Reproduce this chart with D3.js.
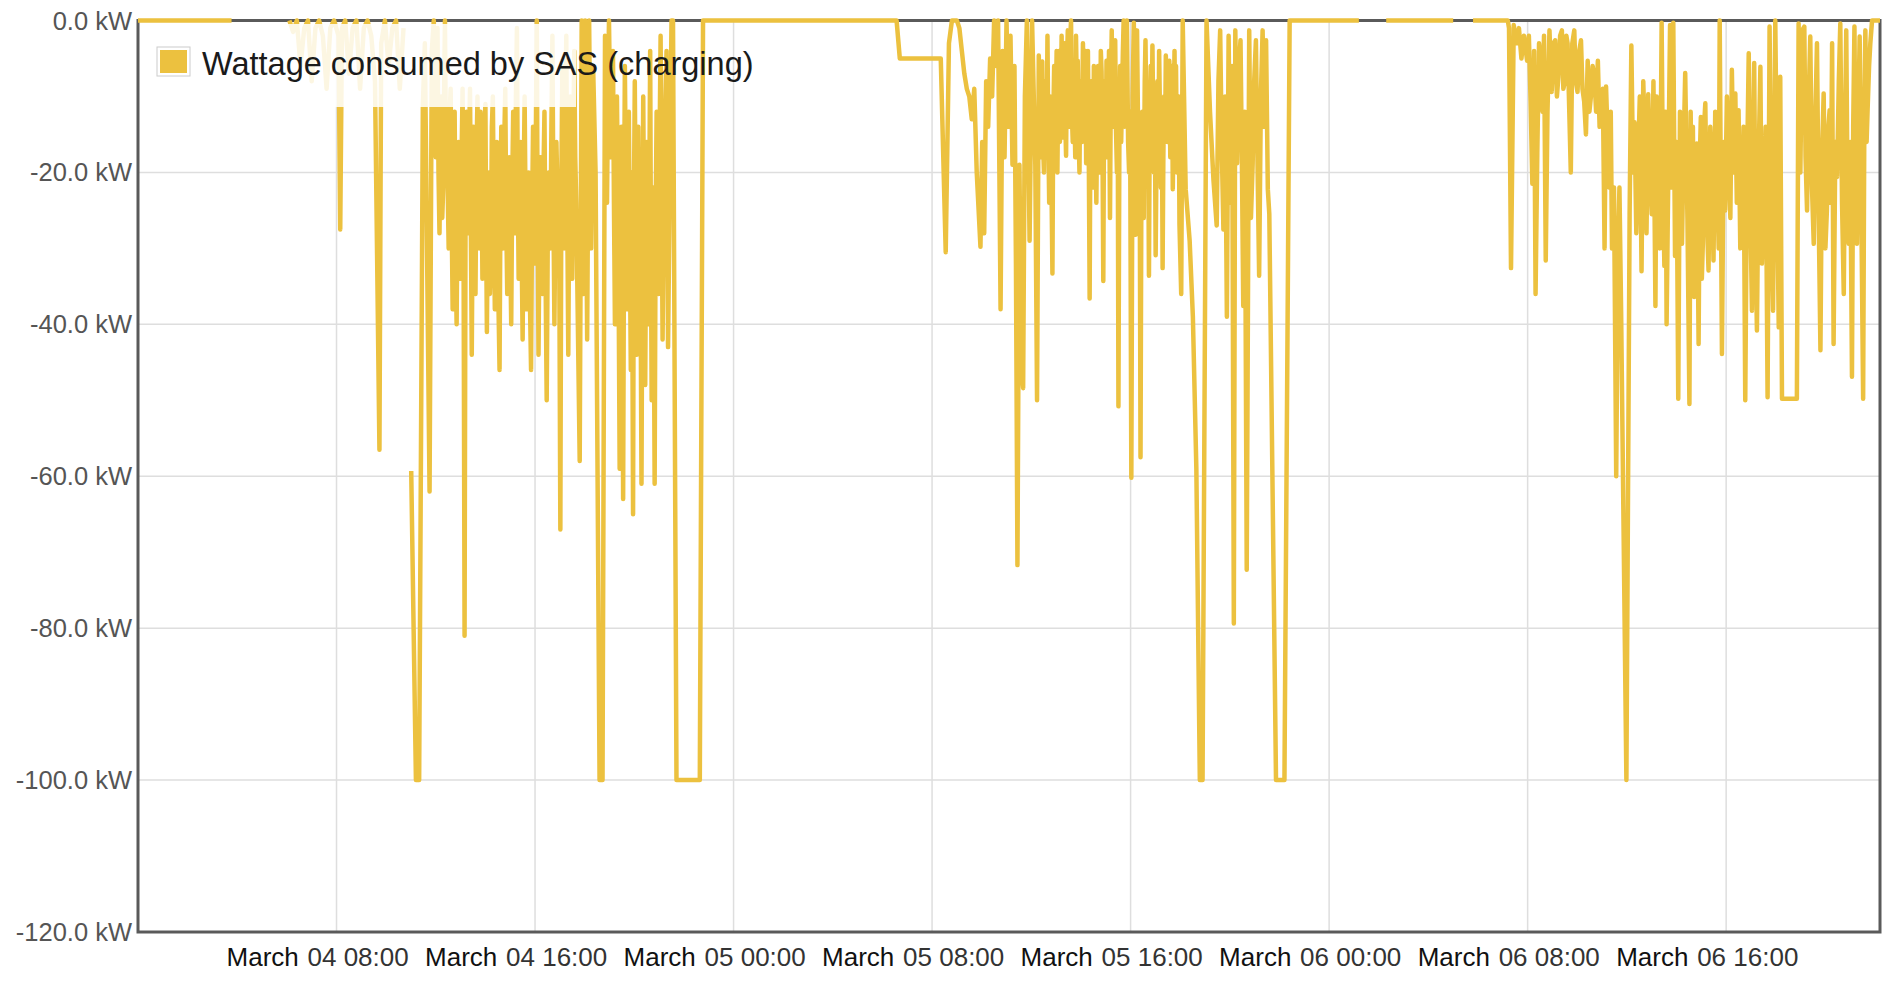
<!DOCTYPE html>
<html>
<head>
<meta charset="utf-8">
<script src="https://cdn.jsdelivr.net/npm/d3@7"></script>
<style>
body { margin: 0; background: #fff; }
text { font-family: "Liberation Sans", Arial, sans-serif; }
</style>
</head>
<body>
<div id="vis"></div>
<script>
//readings per day: [hour of day, kW], null = no data
var mar04 = [[0,0],[3.77,0],[3.8,null],
[6.1,0],[6.25,-1.5],[6.4,0],[6.55,-6],[6.7,-1],[6.85,0],[7.0,-8],[7.15,-1],[7.3,0],[7.45,-2],[7.6,-9],[7.75,-1],[7.9,0],
[8.08,-2],[8.15,-27.5],[8.22,-1],[8.35,0],[8.5,-7],[8.65,-1],[8.8,0],[8.95,-9],[9.1,-1],[9.25,0],[9.4,-2],[9.55,-8],
[9.73,-56.5],[9.8,-3],[9.95,0],[10.1,-6],[10.25,-1],[10.4,0],[10.55,-9],[10.7,-1],[10.85,null],
[11.01,-59.3],[11.2,-100],[11.33,-100],[11.48,-11],[11.56,-3],[11.75,-62],[11.84,-4],
[11.92,0],[11.96,-12],[12.0,-18],[12.04,-6],[12.07,-1],[12.11,-20],[12.15,-28],[12.19,-14],[12.22,-10],[12.26,-26],[12.3,-22],[12.34,-8],[12.37,0],[12.41,-18],[12.45,-14],[12.49,-24],[12.52,-30],[12.56,-12],[12.6,-9],[12.64,-26],[12.68,-38],[12.72,-20],[12.76,-12],[12.8,-30],[12.84,-40],[12.88,-22],[12.92,-16],[12.96,-28],[13.0,-34],[13.04,-18],[13.08,-9],[13.12,-30],[13.16,-81],[13.2,-24],[13.24,-12],[13.28,-22],[13.31,-28],[13.35,-14],[13.38,-9],[13.42,-30],[13.45,-44],[13.49,-24],[13.52,-14],[13.56,-28],[13.6,-36],[13.64,-18],[13.68,-10],[13.72,-24],[13.76,-30],[13.8,-12],[13.84,-18],[13.88,-34],[13.92,-26],[13.96,-14],[14.0,-11],[14.03,-28],[14.06,-41],[14.1,-24],[14.14,-20],[14.18,-36],[14.22,-32],[14.26,-14],[14.3,-10],[14.34,-26],[14.38,-38],[14.42,-22],[14.46,-16],[14.51,-34],[14.57,-46],[14.6,-28],[14.64,-14],[14.68,-22],[14.72,-30],[14.76,-16],[14.8,-9],[14.84,-26],[14.88,-36],[14.92,-24],[14.96,-18],[15.0,-30],[15.04,-40],[15.08,-22],[15.12,-12],[15.16,-24],[15.2,-28],[15.23,-10],[15.27,-1],[15.3,-20],[15.34,-34],[15.38,-24],[15.42,-16],[15.46,-30],[15.5,-42],[15.54,-22],[15.58,-10],[15.62,-26],[15.66,-38],[15.7,-28],[15.74,-20],[15.79,-36],[15.84,-46],[15.88,-26],[15.92,-14],[15.96,-22],[16.0,-32],[16.04,-12],[16.07,0],[16.1,-24],[16.14,-44],[16.18,-28],[16.22,-18],[16.26,-30],[16.3,-36],[16.34,-20],[16.38,-12],[16.42,-32],[16.47,-50],[16.51,-30],[16.55,-20],[16.58,-26],[16.62,-30],[16.66,-14],[16.7,-2],[16.74,-24],[16.78,-40],[16.82,-26],[16.86,-16],[16.9,-22],[16.94,-26],[16.98,-34],[17.02,-67],[17.06,-22],[17.1,-6],[17.14,-20],[17.18,-30],[17.22,-12],[17.26,-2],[17.3,-26],[17.34,-44],[17.38,-22],[17.42,-10],[17.46,-24],[17.5,-34],[17.54,-16],[17.58,-4],[17.62,-18],[17.66,-24],[17.8,-58],[17.88,0],[17.95,-36],[18.02,0],[18.1,-42],[18.18,0],[18.26,-30],[18.34,-6],[18.44,-20],[18.6,-100],[18.72,-100],
[18.82,-2],[18.86,-14],[18.9,-24],[18.94,-10],[18.98,0],[19.02,-10],[19.06,-18],[19.1,-8],[19.14,-4],[19.18,-24],[19.22,-40],[19.26,-22],[19.3,-10],[19.36,-30],[19.41,-59],[19.45,-28],[19.48,-14],[19.52,-32],[19.55,-63],[19.59,-24],[19.62,-6],[19.66,-22],[19.7,-38],[19.74,-26],[19.78,-12],[19.82,-30],[19.86,-46],[19.9,-20],[19.95,-65],[19.98,-26],[20.02,-8],[20.06,-28],[20.1,-44],[20.13,-26],[20.16,-14],[20.19,-30],[20.22,-36],[20.26,-40],[20.29,-61],[20.33,-26],[20.36,-10],[20.4,-30],[20.44,-48],[20.47,-30],[20.5,-16],[20.54,-28],[20.58,-40],[20.61,-20],[20.64,-4],[20.67,-30],[20.7,-50],[20.73,-34],[20.76,-22],[20.79,-40],[20.82,-61],[20.86,-26],[20.9,-12],[20.94,-24],[20.98,-36],[21.02,-16],[21.06,-2],[21.1,-22],[21.14,-42],[21.18,-28],[21.22,-18],[21.26,-10],[21.3,-4],[21.36,-43],[21.5,0],[21.56,0],[21.7,-100],[22.64,-100],[22.77,0]];

var mar05 = [[0,0],[6.57,0],[6.7,-5],[8.35,-5],[8.55,-30.5],[8.68,-3],[8.8,0],[9.0,0],[9.1,-1],[9.2,-4],[9.3,-7],[9.4,-9],[9.5,-10],[9.6,-13],[9.7,-9],[9.8,-20],[9.95,-29.8],[10.02,-16],[10.1,-28],[10.18,-8],[10.26,-14],[10.34,-5],[10.42,-10],[10.5,0],[10.58,-6],[10.66,0],[10.76,-38],[10.84,-4],[10.92,-18],[11.0,0],[11.08,-14],[11.16,-2],[11.24,-19],[11.32,-6],[11.38,-32],[11.44,-71.7],[11.52,-19],[11.6,-46],[11.67,-48.4],[11.74,-10],[11.82,0],[11.93,-29],[12.03,0],[12.16,-19],[12.23,-50],
[12.3,-4.6],[12.33,-14],[12.37,-18],[12.4,-6],[12.44,-5.4],[12.47,-16],[12.51,-20],[12.54,-10],[12.58,-8],[12.61,-18],[12.65,-2],[12.68,-14],[12.72,-24],[12.76,-10],[12.8,-18],[12.85,-33.3],[12.88,-14],[12.92,-6],[12.95,-16],[12.98,-12.7],[13.02,-4],[13.05,-20],[13.08,-10],[13.12,-4],[13.15,-16],[13.19,-12],[13.22,-2],[13.26,-15.4],[13.29,-8],[13.33,-3],[13.36,-12],[13.4,-17.8],[13.43,-6],[13.47,-1.3],[13.5,-14],[13.53,-10],[13.56,-3],[13.6,0],[13.63,-12],[13.67,-16],[13.7,-6],[13.74,-12],[13.77,-18],[13.8,-2],[13.84,-10],[13.87,-5.3],[13.9,-14],[13.94,-20],[13.97,-8],[14.01,-12.7],[14.04,-16],[14.08,-3],[14.11,-14],[14.15,-11.4],[14.18,-4],[14.21,-18.8],[14.25,-10],[14.28,-4],[14.32,-20],[14.35,-36.6],[14.38,-14],[14.42,-8],[14.45,-18],[14.49,-22],[14.52,-6],[14.56,-9.4],[14.59,-16],[14.62,-24],[14.66,-10],[14.69,-6],[14.72,-16],[14.76,-20],[14.8,-4],[14.83,-6.7],[14.87,-18],[14.9,-34.3],[14.93,-12],[14.96,-8],[15.0,-16],[15.03,-5.3],[15.07,-18],[15.1,-12],[15.13,-4],[15.17,-26],[15.2,-10],[15.24,-1.3],[15.27,-12],[15.31,-14],[15.34,-4],[15.38,-2.6],[15.41,-14],[15.45,-20],[15.48,-8],[15.51,-50.8],[15.55,-14],[15.58,-6],[15.62,-16],[15.65,-10.7],[15.69,-4],[15.72,0],[15.76,-14],[15.8,-12],[15.83,-2],[15.85,0],[15.9,-16],[15.94,-20],[15.98,-12],[16.03,-60.2],[16.08,-10],[16.13,-0.3],[16.17,-16],[16.2,-28.2],[16.23,-8],[16.26,-1.3],[16.3,-14],[16.33,-18],[16.37,-22],[16.4,-57.5],[16.44,-16],[16.47,-12],[16.5,-20],[16.53,-26],[16.57,-8],[16.6,-2.6],[16.64,-14],[16.67,-18],[16.7,-10],[16.74,-33.6],[16.77,-14],[16.81,-6],[16.84,-16],[16.88,-3.3],[16.91,-12],[16.94,-20],[16.98,-14],[17.01,-30.9],[17.05,-16],[17.08,-8],[17.12,-18],[17.15,-4],[17.19,-14],[17.22,-22],[17.26,-12],[17.29,-32.6],[17.32,-18],[17.35,-10],[17.39,-16],[17.42,-4.6],[17.46,-12],[17.49,-16],[17.53,-8],[17.56,-5.3],[17.6,-18],[17.63,-14],[17.67,-6],[17.7,-22.2],[17.74,-12],[17.77,-4],[17.8,-14],[17.83,-6],[17.87,-20],[17.9,-18],[17.94,-10],[17.97,-26.9],[18.04,-36],[18.1,0],
[18.22,-22.2],[18.38,-29],[18.51,-39],[18.65,-59],[18.79,-100],[18.9,-100],[19.06,0],[19.2,-12],[19.34,-21],[19.47,-27],[19.54,-8],[19.61,-1.3],[19.67,-16],[19.74,-27.5],[19.81,-10],[19.88,-39],[19.95,-2],[20.02,-24],[20.09,-6],[20.16,-79.4],[20.22,-1.3],[20.29,-18.8],[20.36,-6],[20.43,-2.6],[20.49,-20],[20.54,-37.6],[20.6,-12],[20.68,-72.3],[20.78,-1.3],[20.85,-26],[20.92,-18.8],[20.98,-8],[21.05,-2.6],[21.12,-20],[21.18,-33.6],[21.25,-10],[21.32,-1.3],[21.39,-14],[21.46,-2.6],[21.53,-22.2],[21.59,-25.5],[21.86,-100],[22.2,-100],[22.41,0]];

var mar06 = [[0,0],[1.2,0],[1.22,null],[2.3,0],[5.0,0],[5.02,null],[5.8,0],[7.2,0],
[7.25,-1],[7.33,-32.6],[7.44,-0.6],[7.55,-3],[7.65,-1],[7.75,-5],[7.85,-2],[7.98,-5.3],[8.05,-2],[8.12,-10.7],[8.19,-21.5],[8.26,-4],[8.32,-36],[8.39,-17.4],[8.46,-3],[8.53,-5.3],[8.6,-12],[8.66,-2],[8.73,-31.6],[8.8,-12],[8.88,-1.3],[8.97,-9.4],[9.04,-3],[9.11,-2.6],[9.18,-10],[9.24,-7.4],[9.31,-2],[9.38,-1.3],[9.44,-9],[9.5,-8],[9.56,-2],[9.61,-3],[9.74,-20],[9.8,-3],[9.88,-1.3],[9.94,-8],[10.01,-9.4],[10.08,-4],[10.15,-2.6],[10.21,-9],[10.28,-10.7],[10.35,-15],[10.42,-5.3],[10.49,-12],[10.55,-10],[10.62,-6],[10.69,-7.4],[10.76,-12],[10.83,-5.3],[10.9,-14],[10.96,-12],[11.03,-9],[11.1,-30],[11.16,-8.7],[11.23,-16],[11.3,-22],[11.35,-12],[11.4,-30],[11.48,-22],[11.57,-60],[11.64,-30],[11.7,-22],[11.77,-39],[11.98,-100],[12.11,-25.5],[12.18,-3.3],[12.25,-20],[12.31,-13.4],[12.38,-28],[12.45,-18.8],[12.52,-10],[12.59,-33],[12.66,-8],[12.72,-15.4],[12.79,-28],[12.86,-9.7],[12.93,-20],[13.0,-25.5],[13.07,-8],[13.15,-37.6],[13.2,-10],[13.26,-15.4],[13.33,-30],[13.4,-0.3],[13.45,-20],[13.51,-32.3],[13.56,-12],[13.6,-40],[13.67,-20],[13.74,-0.6],[13.8,-22],[13.87,-0.3],[13.94,-31],[14.0,-16],[14.07,-49.8],[14.14,-12],[14.22,-29.4],[14.28,-18],[14.35,-6.9],[14.44,-26],[14.52,-50.5],[14.57,-12],[14.62,-29.4],[14.66,-14],[14.71,-36.4],[14.76,-22],[14.82,-16.2],[14.89,-42.6],[14.94,-18],[14.98,-12.7],[15.02,-34],[15.06,-29.4],[15.11,-14],[15.16,-10.9],[15.22,-26],[15.29,-32.9],[15.36,-14],[15.43,-20.6],[15.49,-31.6],[15.56,-12],[15.63,-19.7],[15.7,-30],[15.74,0],[15.83,-43.9],[15.9,-16],[15.96,-25],[16.03,-10],[16.1,-18.4],[16.17,-26],[16.23,-6.5],[16.3,-20],[16.37,-9.6],[16.43,-24],[16.5,-11.8],[16.57,-30],[16.64,-27.2],[16.7,-14],[16.77,-50],[16.84,-20],[16.91,-4.3],[16.97,-24],[17.04,-38.2],[17.09,-16],[17.13,-5.6],[17.18,-28],[17.24,-40.8],[17.31,-18],[17.38,-6.1],[17.44,-32],[17.51,-25],[17.59,-14],[17.67,-49.6],[17.75,-0.8],[17.82,-26],[17.89,-38.2],[17.98,0],[18.05,-22],[18.12,-40.4],[18.18,-7.4],[18.25,-49.8],[18.85,-49.8],[18.92,-0.4],[18.99,-20],[19.06,-1.3],[19.15,-0.8],[19.2,-18],[19.26,-25],[19.33,-10],[19.39,-2.1],[19.46,-22],[19.53,-29.4],[19.6,-12],[19.66,-3],[19.73,-26],[19.8,-43.4],[19.86,-18],[19.93,-9.6],[20.0,-30],[20.06,-25],[20.12,-14],[20.17,-11.8],[20.22,-24],[20.27,-3],[20.33,-42.6],[20.4,-16],[20.47,-20.6],[20.54,-8],[20.6,-0.4],[20.67,-24],[20.74,-36],[20.8,-12],[20.84,-1.3],[20.89,-22],[20.94,-29.4],[21.0,-16],[21.07,-46.9],[21.12,-14],[21.17,-0.8],[21.22,-22],[21.27,-29.4],[21.33,-12],[21.38,-2.1],[21.45,-26],[21.52,-49.8],[21.57,-12],[21.61,-1.3],[21.66,-16],[21.7,-11.8],[21.76,-6],[21.81,-3],[21.88,0],[22.2,0]];

var days = [mar04, mar05, mar06];
var yTicks = [0, -20, -40, -60, -80, -100, -120];
var xTickHours = [8, 16, 24, 32, 40, 48, 56, 64];
var xTickMonth = ["March ", "March", "March", "March", "March", "March", "March", "March"];
var xTickDay = ["04 08:00", "04 16:00", "05 00:00", "05 08:00", "05 16:00", "06 00:00", "06 08:00", "06 16:00"];
var seriesLabel = "Wattage consumed by SAS (charging)";
var lineColor = "#ecc13f";

var start = new Date(2015, 2, 4, 0, 0);
var hoursShown = 70.2;

function atHour(h) {
    return new Date(start.getTime() + h * 3600 * 1000);
}

//flatten the days into one series
var series = [];
days.forEach(function (day, i) {
    day.forEach(function (p) {
        series.push({ date: atHour(i * 24 + p[0]), kw: p[1] });
    });
});

var width = 1888, height = 981;
var margin = { top: 20.5, right: 8, bottom: 49, left: 138 };

var svg = d3.select("#vis").append("svg")
    .attr("width", width)
    .attr("height", height);

var x = d3.scaleTime()
    .domain([start, atHour(hoursShown)])
    .range([margin.left, width - margin.right]);

var y = d3.scaleLinear()
    .domain([-120, 0])
    .range([height - margin.bottom, margin.top]);

//grid
svg.append("g").selectAll("line.vgrid")
    .data(xTickHours)
    .enter().append("line")
    .attr("x1", function (d) { return x(atHour(d)); })
    .attr("x2", function (d) { return x(atHour(d)); })
    .attr("y1", y(0))
    .attr("y2", y(-120))
    .attr("stroke", "#dedede")
    .attr("stroke-width", 1.5);

svg.append("g").selectAll("line.hgrid")
    .data(yTicks.slice(1, -1))
    .enter().append("line")
    .attr("x1", x.range()[0])
    .attr("x2", x.range()[1])
    .attr("y1", function (d) { return y(d); })
    .attr("y2", function (d) { return y(d); })
    .attr("stroke", "#dedede")
    .attr("stroke-width", 1.5);

//frame
svg.append("rect")
    .attr("x", x.range()[0])
    .attr("y", y(0))
    .attr("width", x.range()[1] - x.range()[0])
    .attr("height", y(-120) - y(0))
    .attr("fill", "none")
    .attr("stroke", "#5a5a5a")
    .attr("stroke-width", 3);

//y labels, plain hyphen for the minus
svg.append("g").selectAll("text")
    .data(yTicks)
    .enter().append("text")
    .attr("x", margin.left - 6)
    .attr("y", function (d) { return y(d); })
    .attr("text-anchor", "end")
    .attr("dominant-baseline", "central")
    .attr("font-size", 25.5)
    .attr("fill", "#555")
    .text(function (d) { return d.toFixed(1) + " kW"; });

//x labels
var xl = svg.append("g").selectAll("text")
    .data(xTickHours)
    .enter().append("text")
    .attr("y", 966)
    .attr("font-size", 26);

xl.append("tspan")
    .attr("x", function (d) { return x(atHour(d)) - 110; })
    .attr("fill", "#111")
    .text(function (d, i) { return xTickMonth[i]; });

xl.append("tspan")
    .attr("x", function (d) { return x(atHour(d)) - 29; })
    .attr("fill", "#333")
    .text(function (d, i) { return xTickDay[i]; });

//the series
var line = d3.line()
    .defined(function (d) { return d.kw !== null; })
    .x(function (d) { return x(d.date); })
    .y(function (d) { return y(d.kw); });

svg.append("path")
    .datum(series)
    .attr("d", line)
    .attr("fill", "none")
    .attr("stroke", lineColor)
    .attr("stroke-width", 4.5)
    .attr("stroke-linejoin", "round");

//legend
svg.append("rect")
    .attr("x", 150).attr("y", 24)
    .attr("width", 426).attr("height", 83)
    .attr("fill", "#fff")
    .attr("opacity", 0.85);

svg.append("rect")
    .attr("x", 157).attr("y", 47)
    .attr("width", 33).attr("height", 29)
    .attr("fill", "#fff")
    .attr("stroke", "#ccc");

svg.append("rect")
    .attr("x", 160).attr("y", 50)
    .attr("width", 27).attr("height", 23)
    .attr("fill", lineColor);

svg.append("text")
    .attr("x", 202).attr("y", 75)
    .attr("font-size", 32.5)
    .attr("fill", "#1a1a1a")
    .text(seriesLabel);
</script>
</body>
</html>
